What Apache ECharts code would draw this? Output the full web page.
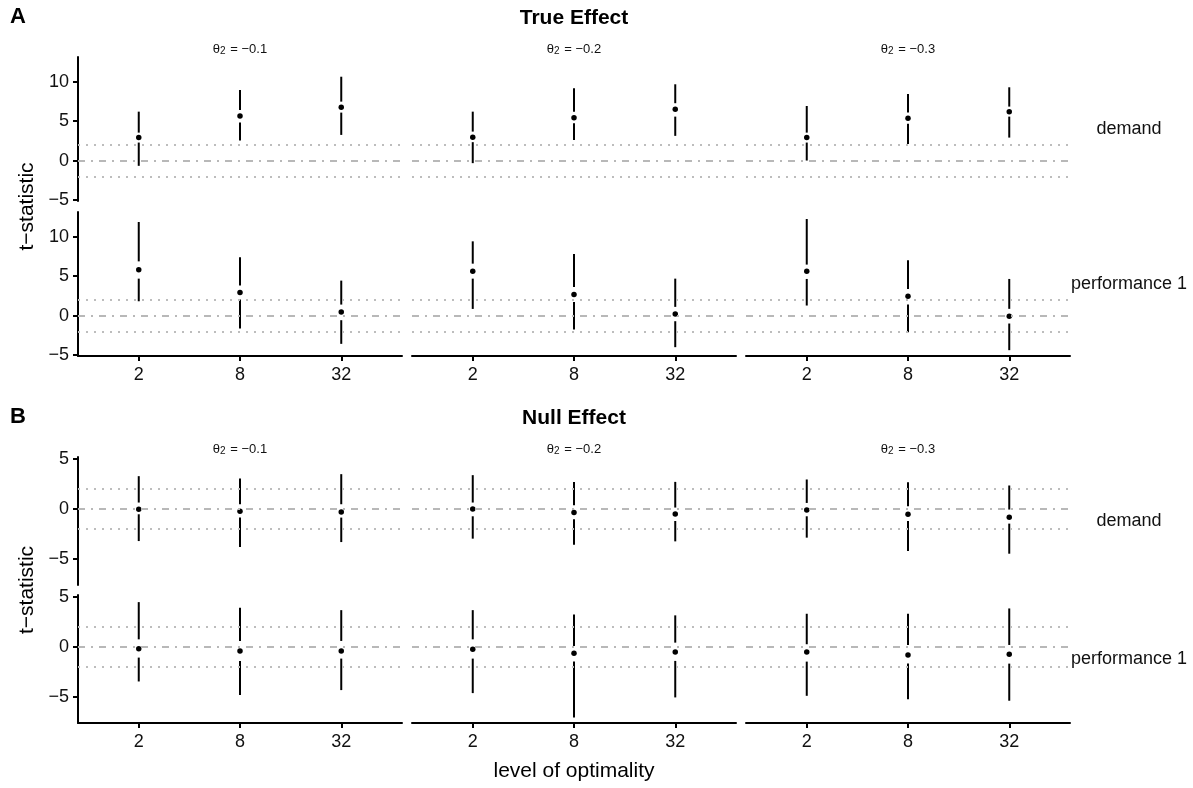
<!DOCTYPE html>
<html>
<head>
<meta charset="utf-8">
<script src="https://cdn.jsdelivr.net/npm/echarts@6/dist/echarts.min.js"></script>
<style>
html, body { margin: 0; padding: 0; background: #fff; }
#main { width: 1193px; height: 788px; }
</style>
</head>
<body>
<div id="main"></div>
<script>
var levels = ['2', '8', '32'];
var thetas = ['\u22120.1', '\u22120.2', '\u22120.3'];
var outcomes = ['demand', 'performance 1'];

// per panel (theta), per level: [low whisker, q1, median, q3, high whisker]
var trueDemand = [
    [[-0.67, 2.28, 2.91, 3.54, 6.2], [2.53, 4.81, 5.66, 6.42, 8.95], [3.25, 6.08, 6.76, 7.47, 10.63]],
    [[-0.33, 2.33, 2.96, 3.67, 6.2], [2.62, 4.73, 5.44, 6.2, 9.16], [3.13, 5.57, 6.5, 7.27, 9.67]],
    [[0.0, 2.28, 2.91, 3.54, 6.92], [2.11, 4.65, 5.37, 6.08, 8.44], [2.91, 5.57, 6.2, 6.84, 9.29]]
];
var truePerf = [
    [[1.81, 4.68, 5.82, 6.87, 11.86], [-1.65, 2.03, 2.91, 3.8, 7.38], [-3.59, -0.59, 0.46, 1.39, 4.43]],
    [[0.84, 4.68, 5.61, 6.58, 9.41], [-1.77, 1.73, 2.66, 3.63, 7.8], [-4.01, -0.72, 0.21, 1.1, 4.68]],
    [[1.27, 4.64, 5.61, 6.46, 12.24], [-2.11, 1.39, 2.45, 3.38, 7.0], [-4.39, -1.01, -0.08, 0.85, 4.64]]
];
var nullDemand = [
    [[-3.2, -0.53, -0.03, 0.64, 3.27], [-3.8, -0.86, -0.23, 0.47, 3.04], [-3.3, -0.86, -0.3, 0.47, 3.47]],
    [[-2.96, -0.73, 0.0, 0.64, 3.37], [-3.56, -1.03, -0.36, 0.37, 2.7], [-3.23, -1.2, -0.5, 0.14, 2.7]],
    [[-2.86, -0.73, -0.1, 0.6, 2.94], [-4.2, -1.2, -0.53, 0.27, 2.67], [-4.46, -1.46, -0.83, -0.06, 2.34]]
];
var nullPerf = [
    [[-3.44, -1.06, -0.17, 0.76, 4.47], [-4.8, -1.39, -0.4, 0.6, 3.9], [-4.3, -1.16, -0.4, 0.6, 3.67]],
    [[-4.6, -1.16, -0.23, 0.76, 3.67], [-7.02, -1.46, -0.63, 0.1, 3.24], [-5.03, -1.39, -0.5, 0.43, 3.15]],
    [[-4.87, -1.46, -0.5, 0.27, 3.31], [-5.2, -1.66, -0.79, 0.2, 3.31], [-5.36, -1.66, -0.73, 0.2, 3.84]]
];

var trueRange = [-5.13, 13.13];
var nullRange = [-7.58, 5.18];
var trueTicks = [-5, 0, 5, 10];
var nullTicks = [-5, 0, 5];
var refLines = [0, 2, -2];

var font = '"Liberation Sans", Arial, Helvetica, sans-serif';
var chart = echarts.init(document.getElementById('main'));

var sections = [
    {title: 'True Effect', tag: 'A', rows: [trueDemand, truePerf], range: trueRange, ticks: trueTicks,
     tops: [57, 212], height: 144, tagY: 17, titleY: 18, stripY: 49},
    {title: 'Null Effect', tag: 'B', rows: [nullDemand, nullPerf], range: nullRange, ticks: nullTicks,
     tops: [457, 595], height: 128, tagY: 417, titleY: 418, stripY: 449}
];
var lefts = [78, 412, 746];
var panelW = 324;

function minus(v) { return String(v).replace('-', '\u2212'); }

var grids = [], xAxes = [], yAxes = [], series = [], graphics = [];

sections.forEach(function (sec, s) {
    graphics.push({type: 'text', x: 10, y: sec.tagY,
        style: {text: sec.tag, fontSize: 22, fontWeight: 'bold', fontFamily: font, fill: '#000', verticalAlign: 'middle'}});
    graphics.push({type: 'text', x: 574, y: sec.titleY,
        style: {text: sec.title, fontSize: 21, fontWeight: 'bold', fontFamily: font, fill: '#000', align: 'center', verticalAlign: 'middle'}});
    graphics.push({type: 'text', x: 27, y: (sec.tops[0] + sec.tops[1] + sec.height) / 2, rotation: Math.PI / 2,
        style: {text: 't\u2212statistic', fontSize: 21, fontFamily: font, fill: '#000', align: 'center', verticalAlign: 'middle'}});

    sec.rows.forEach(function (rowData, r) {
        graphics.push({type: 'text', x: 1129, y: sec.tops[r] + sec.height / 2,
            style: {text: outcomes[r], fontSize: 18, fontFamily: font, fill: '#111', align: 'center', verticalAlign: 'middle'}});

        rowData.forEach(function (panel, c) {
            var g = grids.length;
            if (r === 0) {
                graphics.push({type: 'text', x: lefts[c] + panelW / 2, y: sec.stripY,
                    style: {text: '{a|\u03b8}{s|2}{a| = ' + thetas[c] + '}', fontFamily: font, fill: '#111',
                        align: 'center', verticalAlign: 'middle',
                        rich: {a: {fontSize: 13, fontFamily: font, fill: '#111', lineHeight: 16},
                               s: {fontSize: 10, fontFamily: font, fill: '#111', lineHeight: 16, padding: [5, 1, 0, 0]}}}});
            }
            grids.push({left: lefts[c], top: sec.tops[r], width: panelW, height: sec.height});
            var bottomRow = r === 1, leftCol = c === 0;
            xAxes.push({
                gridIndex: g, type: 'value', min: 0.4, max: 3.6,
                axisLine: {show: bottomRow, onZero: false, lineStyle: {color: '#000', width: 2}},
                axisTick: {show: bottomRow, customValues: [1, 2, 3], length: 5, lineStyle: {color: '#000', width: 2}},
                axisLabel: {show: bottomRow, customValues: [1, 2, 3], margin: 10, fontSize: 18, fontFamily: font, color: '#111',
                    formatter: function (v) { return levels[Math.round(v) - 1]; }},
                splitLine: {show: false}
            });
            yAxes.push({
                gridIndex: g, type: 'value', min: sec.range[0], max: sec.range[1],
                axisLine: {show: leftCol, onZero: false, lineStyle: {color: '#000', width: 2}},
                axisTick: {show: leftCol, customValues: sec.ticks, length: 5, lineStyle: {color: '#000', width: 2}},
                axisLabel: {show: leftCol, customValues: sec.ticks, margin: 9, fontSize: 18, fontFamily: font, color: '#111',
                    formatter: minus},
                splitLine: {show: false}
            });

            var rows = panel.map(function (d, i) { return [i + 1].concat(d); });
            series.push({
                type: 'line', xAxisIndex: g, yAxisIndex: g, data: [], silent: true, z: 1,
                markLine: {
                    silent: true, symbol: 'none', label: {show: false}, animation: false,
                    data: refLines.map(function (v) {
                        return {yAxis: v, lineStyle: v === 0
                            ? {color: '#b8b8b8', width: 2, type: [7, 6, 2, 6], opacity: 1}
                            : {color: '#bdbdbd', width: 2, type: [2, 6], opacity: 1}};
                    })
                }
            });
            series.push({
                type: 'custom', xAxisIndex: g, yAxisIndex: g, z: 3, silent: true,
                encode: {x: 0, y: [1, 5]},
                data: rows,
                renderItem: function (params, api) {
                    var x = api.value(0);
                    var lo = api.coord([x, api.value(1)]), q1 = api.coord([x, api.value(2)]);
                    var q3 = api.coord([x, api.value(4)]), hi = api.coord([x, api.value(5)]);
                    var st = {stroke: '#000', lineWidth: 2};
                    return {type: 'group', children: [
                        {type: 'line', shape: {x1: lo[0], y1: lo[1], x2: q1[0], y2: q1[1]}, style: st},
                        {type: 'line', shape: {x1: q3[0], y1: q3[1], x2: hi[0], y2: hi[1]}, style: st}
                    ]};
                }
            });
            series.push({
                type: 'scatter', xAxisIndex: g, yAxisIndex: g, z: 4, silent: true,
                symbolSize: 5.5, itemStyle: {color: '#000', opacity: 1},
                data: rows.map(function (d) { return [d[0], d[3]]; })
            });
        });
    });
});

graphics.push({type: 'text', x: 574, y: 771,
    style: {text: 'level of optimality', fontSize: 21, fontFamily: font, fill: '#000', align: 'center', verticalAlign: 'middle'}});

chart.setOption({
    animation: false,
    backgroundColor: '#fff',
    grid: grids,
    xAxis: xAxes,
    yAxis: yAxes,
    series: series,
    graphic: graphics
});
</script>
</body>
</html>
